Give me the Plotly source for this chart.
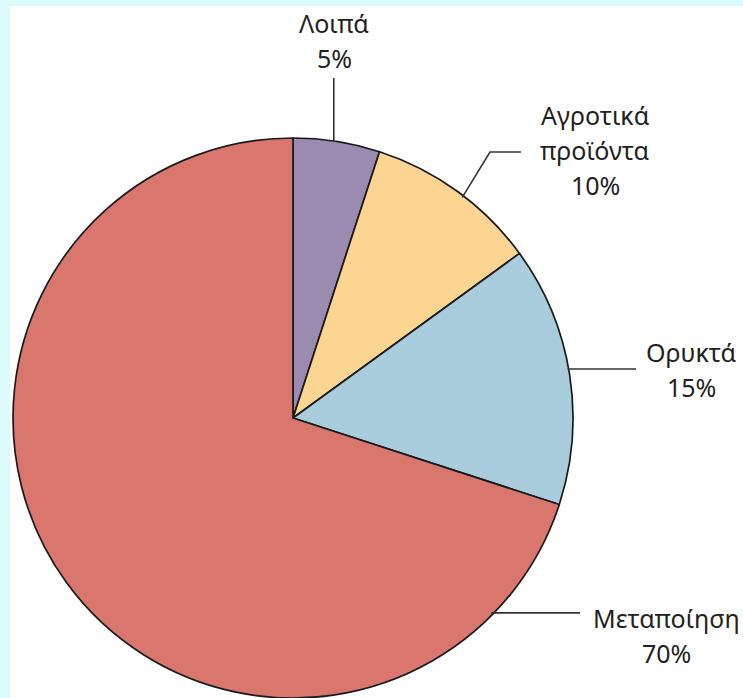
import math
import plotly.graph_objects as go

W, H = 743, 698

# Data
categories = ["Λοιπά", "Αγροτικά<br>προϊόντα", "Ορυκτά", "Μεταποίηση"]
shares = [5, 10, 15, 70]
pct_labels = ["5%", "10%", "15%", "70%"]
colors = ["#9b8bb0", "#fdd592", "#a9cddc", "#d9766e"]

# Layout geometry (pixels)
CX, CY, R = 293, 418, 280
BORDER_L, BORDER_T = 10, 6
LINE_GAP = 35


def px(x):
    return x / W


def py(y):
    return 1 - y / H


fig = go.Figure()
fig.add_trace(go.Pie(
    labels=categories,
    values=shares,
    sort=False,
    direction="clockwise",
    rotation=0,
    marker=dict(colors=colors, line=dict(color="#1a1a1a", width=1.7)),
    textinfo="none",
    hoverinfo="label+percent",
    showlegend=False,
    domain=dict(x=[px(CX - R), px(CX + R)], y=[0, py(CY - R)]),
))


# edge points of the pie at given angle (deg clockwise from 12 o'clock)
def edge(angle_deg, rr=R):
    a = math.radians(angle_deg)
    return CX + rr * math.sin(a), CY - rr * math.cos(a)


total = sum(shares)
cum = 0
mids = []
for v in shares:
    mids.append(360 * (cum + v / 2) / total)
    cum += v
leader_angles = [mids[0], mids[1] + 1.5, mids[2], 134.5]

shapes = [
    # white page over cyan frame
    dict(type="rect", xref="paper", yref="paper", x0=px(BORDER_L), x1=1.01,
         y0=-0.01, y1=py(BORDER_T), fillcolor="white", line=dict(width=0), layer="below"),
]

line_style = dict(color="#333333", width=1.6)

# Λοιπά: vertical line
ex, ey = edge(leader_angles[0])
shapes.append(dict(type="line", xref="paper", yref="paper",
                   x0=px(ex - 3), y0=py(ey), x1=px(ex - 3), y1=py(78), line=line_style))
# Αγροτικά: bent line
ex, ey = edge(leader_angles[1], R - 2)
shapes.append(dict(type="path", xref="paper", yref="paper",
                   path=f"M {px(ex)} {py(ey)} L {px(490)} {py(152)} L {px(521)} {py(152)}",
                   line=line_style))
# Ορυκτά: horizontal line
ex, ey = edge(leader_angles[2], R - 2)
shapes.append(dict(type="line", xref="paper", yref="paper",
                   x0=px(ex), y0=py(369), x1=px(636), y1=py(369), line=line_style))
# Μεταποίηση: horizontal line
ex, ey = edge(leader_angles[3], R - 2)
shapes.append(dict(type="line", xref="paper", yref="paper",
                   x0=px(ex), y0=py(ey), x1=px(580), y1=py(ey), line=line_style))

font = dict(family="Noto Sans, Open Sans, sans-serif", size=25, color="#231f20")
# (center x, y of first line) in pixels
label_pos = [(334, 23), (595, 115), (691, 352), (666, 618)]
annotations = []
for cat, pct, (lx, ly) in zip(categories, pct_labels, label_pos):
    lines = cat.split("<br>") + [pct]
    for i, t in enumerate(lines):
        annotations.append(dict(
            text=t, x=px(lx), y=py(ly + i * LINE_GAP), xref="paper", yref="paper",
            showarrow=False, font=font, align="center", xanchor="center", yanchor="middle",
        ))

fig.update_layout(
    width=W, height=H,
    margin=dict(l=0, r=0, t=0, b=0),
    paper_bgcolor="#dcfbfd",
    shapes=shapes,
    annotations=annotations,
)

fig.write_html(
    "out.html",
    config={"displayModeBar": False},
    post_script="document.body.style.margin='0';document.body.style.overflow='hidden';"
                "document.documentElement.style.overflow='hidden';",
)
